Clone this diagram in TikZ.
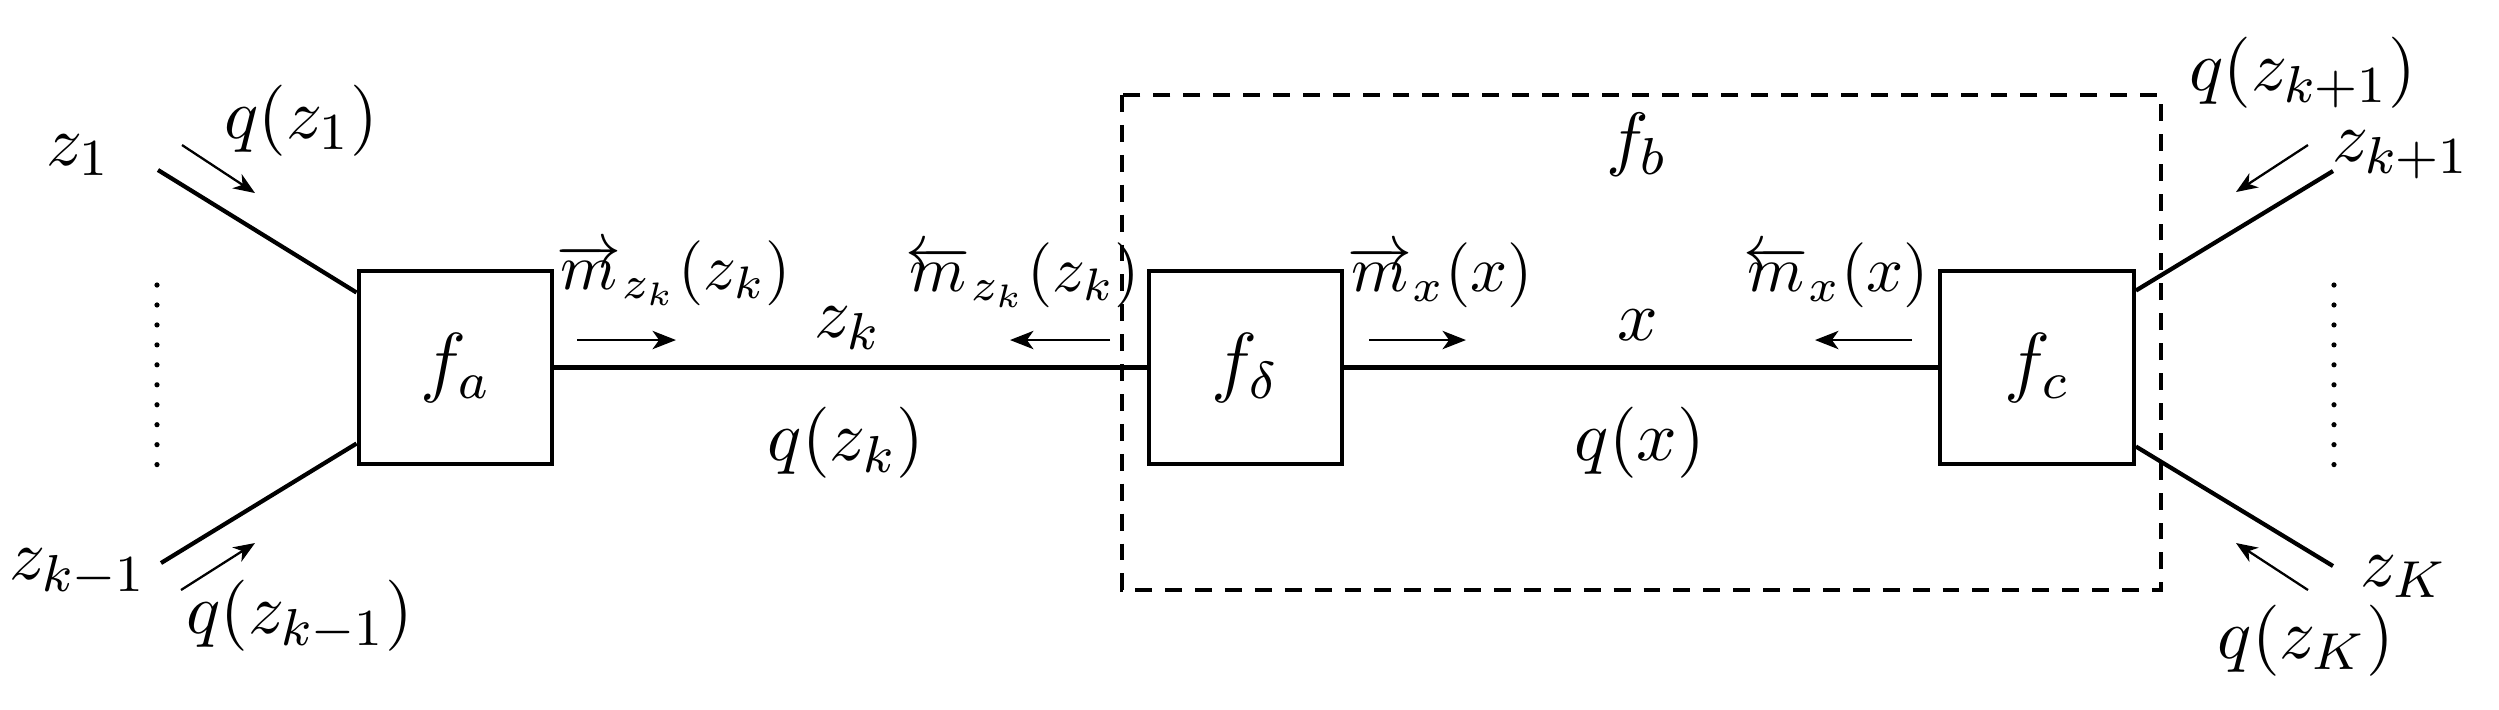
\documentclass[tikz,border=0pt]{standalone}
\usetikzlibrary{calc,arrows.meta}
\begin{document}
\begin{tikzpicture}[x=0.15385pt,y=-0.15385pt,
  fbox/.style={draw,line width=0.65pt,minimum width=29.8pt,minimum height=29.8pt,inner sep=0pt,font=\fontsize{11.6}{14}\selectfont},
  edge/.style={line width=0.65pt},
  msg/.style={line width=0.45pt,-{Stealth[length=3.6pt,width=2.8pt,inset=1pt]}},
  qarr/.style={line width=0.35pt,-{Stealth[length=3.3pt,width=2.6pt,inset=1pt]}},
  lbl/.style={inner sep=0pt,font=\fontsize{10.9}{13}\selectfont},
  mlbl/.style={inner sep=0pt,font=\fontsize{10}{12}\selectfont},
  dots/.style={line width=0.8pt,line cap=round,dash pattern=on 0pt off 3.07pt},
  dbox/.style={line width=0.6pt,dash pattern=on 2.6pt off 2pt}]
\useasboundingbox (0,0) rectangle (2499,709);
% factor boxes
\node[fbox] (fa) at (455.5,367.5) {$f_a$};
\node[fbox] (fd) at (1245.5,367.5) {$f_\delta$};
\node[fbox] (fc) at (2037,367.5) {$f_c$};
% dashed box f_b
\draw[dbox] (1122,95) rectangle (2161,590);
\node[lbl] (fb) at (1637,145) {$f_b$};
% free ends
\coordinate (z1end) at (158,170);
\coordinate (zkm1end) at (161,563);
\coordinate (zkp1end) at (2333,171);
\coordinate (zKend) at (2333,566);
% edges
\draw[edge] (z1end) -- ($(fa.west)+(0,-75)$);
\draw[edge] (zkm1end) -- ($(fa.west)+(0,76)$);
\draw[edge] (fa.east) -- (fd.west);
\draw[edge] (fd.east) -- (fc.west);
\draw[edge] (zkp1end) -- ($(fc.east)+(0,-77)$);
\draw[edge] (zKend) -- ($(fc.east)+(0,79)$);
% dots
\coordinate (dl1) at (157,285);
\coordinate (dl2) at (157,466);
\coordinate (dr1) at (2334,285);
\coordinate (dr2) at (2334,466);
\draw[dots] (dl1) -- (dl2);
\draw[dots] (dr1) -- (dr2);
% variable labels
\node[lbl] (lz1) at (78,155) {$z_1$};
\node[lbl] (lzkm1) at (78,573) {$z_{k-1}$};
\node[lbl] (lzkp1) at (2401,155) {$z_{k+1}$};
\node[lbl] (lzK) at (2404,577) {$z_K$};
\node[lbl] (lzk) at (848,328) {$z_k$};
\node[lbl] (lx) at (1638,325) {$x$};
% beliefs
\node[lbl] (qz1) at (301,120) {$q\big(z_1\big)$};
\node[lbl] (qzkm1) at (300,615) {$q\big(z_{k-1}\big)$};
\node[lbl] (qzkp1) at (2303,72) {$q\big(z_{k+1}\big)$};
\node[lbl] (qzK) at (2306,640) {$q\big(z_K\big)$};
\node[lbl] (qzk) at (846,442) {$q\big(z_k\big)$};
\node[lbl] (qx) at (1640,442) {$q\big(x\big)$};
% belief arrows
\coordinate (a1s) at (182,145); \coordinate (a1e) at (255,193);
\coordinate (a2s) at (181,590); \coordinate (a2e) at (255,543);
\coordinate (a3s) at (2308,145); \coordinate (a3e) at (2236,192);
\coordinate (a4s) at (2308,590); \coordinate (a4e) at (2236,543);
\draw[qarr] (a1s) -- (a1e);
\draw[qarr] (a2s) -- (a2e);
\draw[qarr] (a3s) -- (a3e);
\draw[qarr] (a4s) -- (a4e);
% messages
\node[mlbl] (m1) at (674,273) {$\overrightarrow{m}_{z_k}(z_k)$};
\node[mlbl] (m2) at (1023,275) {$\overleftarrow{m}_{z_k}(z_k)$};
\node[mlbl] (m3) at (1440,275) {$\overrightarrow{m}_{x}(x)$};
\node[mlbl] (m4) at (1836,275) {$\overleftarrow{m}_{x}(x)$};
\coordinate (m1s) at (577,340); \coordinate (m1e) at (676,340);
\coordinate (m2s) at (1110,340); \coordinate (m2e) at (1010,340);
\coordinate (m3s) at (1369,340); \coordinate (m3e) at (1466,340);
\coordinate (m4s) at (1912,340); \coordinate (m4e) at (1815,340);
\draw[msg] (m1s) -- (m1e);
\draw[msg] (m2s) -- (m2e);
\draw[msg] (m3s) -- (m3e);
\draw[msg] (m4s) -- (m4e);
\end{tikzpicture}
\end{document}
